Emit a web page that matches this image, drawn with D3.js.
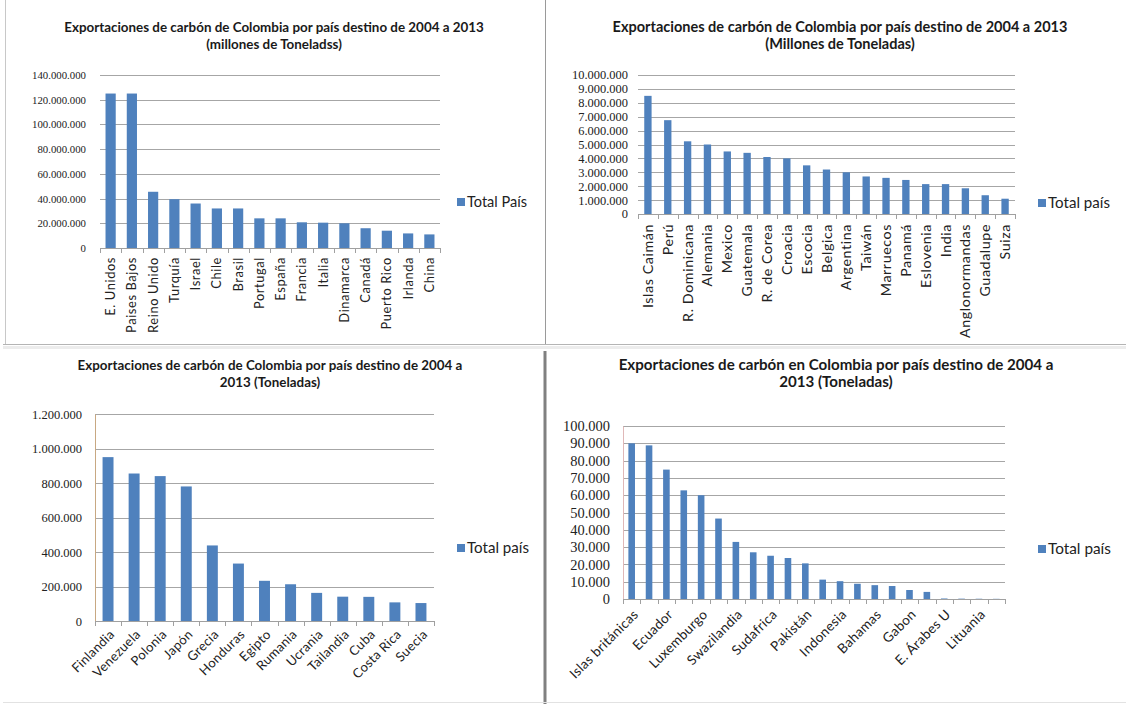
<!DOCTYPE html>
<html>
<head>
<meta charset="utf-8">
<script src="https://cdn.jsdelivr.net/npm/d3@7"></script>
<style>
  html, body { margin: 0; padding: 0; background: #ffffff; }
  svg { display: block; }
</style>
</head>
<body>
<svg id="chart" width="1126" height="704"></svg>
<script>
// ---------------- DATA ----------------
// Panel 1 (top-left)
const tlTitle = ["Exportaciones de carbón  de Colombia por país destino de 2004 a 2013", "(millones de Toneladss)"];
const tlCategories = ["E. Unidos", "Paises Bajos", "Reino Unido", "Turquía", "Israel", "Chile", "Brasil", "Portugal", "España", "Francia", "Italia", "Dinamarca", "Canadá", "Puerto Rico", "Irlanda", "China"];
const tlValues = [125000000, 125000000, 45500000, 39500000, 36000000, 32000000, 32000000, 24000000, 24000000, 20800000, 20500000, 20000000, 16000000, 14000000, 11800000, 11000000];
const tlTicks = [0, 20000000, 40000000, 60000000, 80000000, 100000000, 120000000, 140000000];
const tlLegend = "Total País";

// Panel 2 (top-right)
const trTitle = ["Exportaciones de carbón de Colombia por país destino de 2004 a 2013", "(Millones de Toneladas)"];
const trCategories = ["Islas Caimán", "Perú", "R. Dominicana", "Alemania", "Mexico", "Guatemala", "R. de Corea", "Croacia", "Escocia", "Belgica", "Argentina", "Taiwán", "Marruecos", "Panamá", "Eslovenia", "India", "Anglonormandas", "Guadalupe", "Suiza"];
const trValues = [8500000, 6750000, 5230000, 5000000, 4500000, 4400000, 4100000, 4000000, 3500000, 3200000, 3000000, 2700000, 2600000, 2450000, 2150000, 2150000, 1850000, 1350000, 1100000];
const trTicks = [0, 1000000, 2000000, 3000000, 4000000, 5000000, 6000000, 7000000, 8000000, 9000000, 10000000];
const trLegend = "Total país";

// Panel 3 (bottom-left)
const blTitle = ["Exportaciones de carbón de Colombia por país destino de 2004 a", "2013 (Toneladas)"];
const blCategories = ["Finlandia", "Venezuela", "Polonia", "Japón", "Grecia", "Honduras", "Egipto", "Rumania", "Ucrania", "Tailandia", "Cuba", "Costa Rica", "Suecia"];
const blValues = [950000, 855000, 840000, 780000, 438000, 333000, 233000, 213000, 163000, 141000, 140000, 108000, 104000];
const blTicks = [0, 200000, 400000, 600000, 800000, 1000000, 1200000];
const blLegend = "Total país";

// Panel 4 (bottom-right) — every other category is labelled in the original
const brTitle = ["Exportaciones de carbón en Colombia por país destino de 2004 a", "2013 (Toneladas)"];
const brCategories = ["Islas británicas", "Noruega", "Ecuador", "Jamaica", "Luxemburgo", "Singapur", "Swazilandia", "Bulgaria", "Sudafrica", "Uruguay", "Pakistán", "Malta", "Indonesia", "Haití", "Bahamas", "Trinidad y Tobago", "Gabon", "Aruba", "E. Árabes U", "Curazao", "Lituania", "Austria"];
const brValues = [90000, 88800, 74800, 62800, 60000, 46500, 33000, 27000, 25000, 23700, 20600, 11200, 10300, 8800, 8000, 7500, 5200, 4100, 300, 200, 150, 100];
const brTicks = [0, 10000, 20000, 30000, 40000, 50000, 60000, 70000, 80000, 90000, 100000];
const brLegend = "Total país";

// ---------------- DRAWING ----------------
const svg = d3.select("#chart");
const locale = d3.formatLocale({ decimal: ",", thousands: ".", grouping: [3], currency: ["$", ""] });
const fmt = locale.format(",");
const BLUE = "#4f81bd";
const SANS = "Lato, 'Open Sans', sans-serif";
const SERIF = "'Liberation Serif', 'DejaVu Serif', serif";

// font size so that a sample string spans a given width
function fitSize(str, family, weight, target, ls) {
  const t = svg.append("text").attr("font-family", family).attr("font-weight", weight)
    .attr("font-size", 100).text(str);
  const w = t.node().getComputedTextLength();
  t.remove();
  const extra = (ls || 0) * str.length;
  return 100 * (target - extra) / w;
}

// panel frames / dividers
const frame = svg.append("g").attr("class", "frame");
frame.append("line").attr("x1", 5.5).attr("x2", 5.5).attr("y1", 0).attr("y2", 344).attr("stroke", "#c8c8c8");
frame.append("line").attr("x1", 545.5).attr("x2", 545.5).attr("y1", 0).attr("y2", 344).attr("stroke", "#9a9a9a");
frame.append("line").attr("x1", 3).attr("x2", 1126).attr("y1", 344.5).attr("y2", 344.5).attr("stroke", "#b4b4b4");
frame.append("rect").attr("x", 3).attr("y", 346).attr("width", 1123).attr("height", 3).attr("fill", "#ececec");
frame.append("line").attr("x1", 545).attr("x2", 545).attr("y1", 351).attr("y2", 704).attr("stroke", "#808080").attr("stroke-width", 3);
frame.append("line").attr("x1", 3).attr("x2", 1126).attr("y1", 702.5).attr("y2", 702.5).attr("stroke", "#e2e2e2");

function drawPanel(o) {
  const g = svg.append("g");
  const n = o.cats.length;
  const x = d3.scaleBand().domain(o.cats).range([o.x0, o.x1])
    .paddingInner(o.pad).paddingOuter(o.pad / 2);
  const y = d3.scaleLinear().domain([0, o.ticks[o.ticks.length - 1]]).range([o.yb, o.yt]);

  // title
  const ts = fitSize(o.title[0], SANS, "bold", o.titleW);
  const t = g.append("text").attr("text-anchor", "middle")
    .attr("font-family", SANS).attr("font-weight", "bold")
    .attr("font-size", ts).attr("fill", "#1a1a1a");
  o.title.forEach((line, i) => {
    t.append("tspan").attr("x", o.titleX).attr("y", o.titleY + i * 17).text(line);
  });

  // gridlines
  g.append("g").selectAll("line").data(o.ticks.filter(d => d > 0)).join("line")
    .attr("x1", o.x0).attr("x2", o.x1)
    .attr("y1", d => Math.round(y(d)) + 0.5).attr("y2", d => Math.round(y(d)) + 0.5)
    .attr("stroke", "#a6a6a6").attr("stroke-width", 1);

  // y axis
  const yls = fitSize(fmt(o.ticks[o.ticks.length - 1]), o.yFont, "normal", o.yLabelW, o.yLs);
  const ya = g.append("g").attr("transform", `translate(${o.x0},0)`)
    .call(d3.axisLeft(y).tickValues(o.ticks).tickFormat(fmt).tickSize(0).tickPadding(o.x0 - o.yLabelX));
  ya.attr("font-size", null).attr("font-family", null);
  ya.select(".domain").attr("stroke", o.yAxisColor);
  ya.selectAll("text")
    .style("font-family", o.yFont).style("font-size", yls + "px")
    .attr("fill", "#222");

  // bars
  g.append("g").selectAll("rect").data(o.vals).join("rect")
    .attr("x", (d, i) => x(o.cats[i]))
    .attr("y", d => y(d))
    .attr("width", x.bandwidth())
    .attr("height", d => y(0) - y(d))
    .attr("fill", BLUE);

  // x axis
  const xa = g.append("g").attr("transform", `translate(0,${o.yb})`)
    .call(d3.axisBottom(x).tickSize(0).tickPadding(0));
  xa.attr("font-size", null).attr("font-family", null);
  xa.select(".domain").attr("stroke", "#a0a0a0").attr("d", `M${o.x0},0.5H${o.x1}`);
  const step = x.step();
  g.append("g").selectAll("line").data(d3.range(n + 1)).join("line")
    .attr("x1", i => Math.round(o.x0 + i * step) + 0.5)
    .attr("x2", i => Math.round(o.x0 + i * step) + 0.5)
    .attr("y1", o.yb).attr("y2", o.yb + 5)
    .attr("stroke", "#a0a0a0");

  const xls = fitSize(o.xSample, SANS, "normal", o.xSampleLen, o.xLs);
  xa.selectAll(".tick text")
    .style("font-family", SANS)
    .style("font-size", xls + "px").style("letter-spacing", (o.xLs || 0) + "px").attr("fill", "#222")
    .attr("text-anchor", "end")
    .attr("dy", "0.35em")
    .attr("y", 0)
    .attr("transform", `translate(${o.xLabelDx},${o.xLabelDy}) rotate(${o.rot})`)
    .style("display", (d, i) => (o.every && i % o.every !== 0) ? "none" : null);

  // legend
  const lgs = fitSize(o.legend, SANS, "normal", o.legW);
  const lg = g.append("g").attr("transform", `translate(${o.legX},${o.legY})`);
  lg.append("rect").attr("x", 0).attr("y", -4).attr("width", 8).attr("height", 8).attr("fill", BLUE);
  lg.append("text").attr("x", 10).attr("y", 0).attr("dy", "0.35em")
    .attr("font-family", SANS).attr("font-size", lgs).attr("fill", "#222")
    .text(o.legend);
}

drawPanel({
  title: tlTitle, cats: tlCategories, vals: tlValues, ticks: tlTicks, legend: tlLegend,
  x0: 100, x1: 440, yt: 75, yb: 248, pad: 0.52,
  titleX: 274, titleY: 32, titleW: 420,
  yLabelX: 86, yFont: SERIF, yLabelW: 54, yLs: 0, yAxisColor: "none",
  xSample: "Reino Unido", xSampleLen: 76, xLs: 0.6, rot: -90, xLabelDx: 0, xLabelDy: 9,
  legX: 457, legY: 202, legW: 60
});

drawPanel({
  title: trTitle, cats: trCategories, vals: trValues, ticks: trTicks, legend: trLegend,
  x0: 638, x1: 1015, yt: 75, yb: 214, pad: 0.63,
  titleX: 840, titleY: 32, titleW: 455,
  yLabelX: 628, yFont: SERIF, yLabelW: 56, yLs: 0, yAxisColor: "none",
  xSample: "Anglonormandas", xSampleLen: 114, xLs: 0.6, rot: -90, xLabelDx: 0, xLabelDy: 10,
  legX: 1038, legY: 203, legW: 62
});

drawPanel({
  title: blTitle, cats: blCategories, vals: blValues, ticks: blTicks, legend: blLegend,
  x0: 95, x1: 434, yt: 414, yb: 621, pad: 0.58,
  titleX: 270, titleY: 370, titleW: 385,
  yLabelX: 82, yFont: SERIF, yLabelW: 50, yLs: 0, yAxisColor: "#c8a882",
  xSample: "Finlandia", xSampleLen: 54, xLs: 0.3, rot: -45, xLabelDx: 4, xLabelDy: 11,
  legX: 457, legY: 548, legW: 62
});

drawPanel({
  title: brTitle, cats: brCategories, vals: brValues, ticks: brTicks, legend: brLegend,
  x0: 623, x1: 1005, yt: 426, yb: 599, pad: 0.62,
  titleX: 836, titleY: 370, titleW: 435,
  yLabelX: 610, yFont: SERIF, yLabelW: 47, yLs: 0, yAxisColor: "#e0b8b8",
  xSample: "Luxemburgo", xSampleLen: 76, xLs: 0.3, rot: -45, xLabelDx: 4, xLabelDy: 13, every: 2,
  legX: 1038, legY: 549, legW: 63
});
</script>
</body>
</html>
